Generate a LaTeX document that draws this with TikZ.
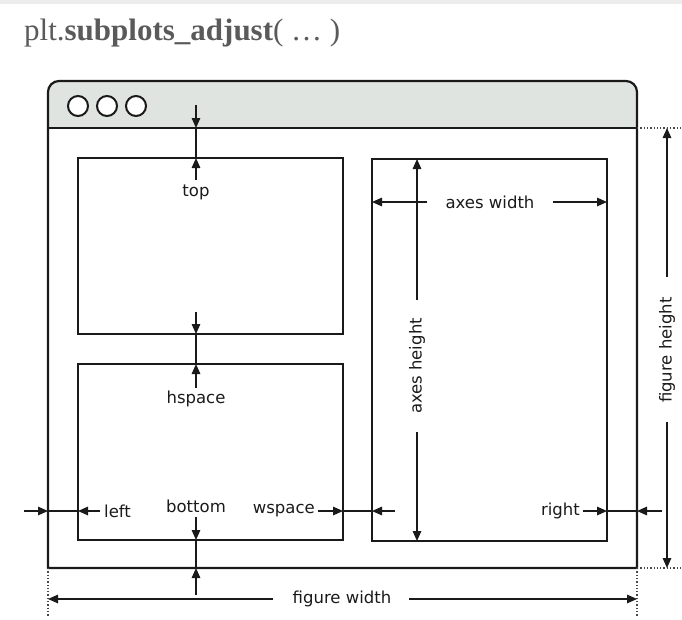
\documentclass[tikz,border=0pt]{standalone}
\usepackage{fontspec}
\setmainfont{Liberation Serif}
\newfontfamily\labfont{DejaVu Sans}
\usetikzlibrary{arrows.meta}
\definecolor{ink}{HTML}{1A1A1A}
\definecolor{barfill}{HTML}{DFE4E0}
\definecolor{titlegray}{HTML}{5A5A5A}
\tikzset{
  frameline/.style={draw=ink, line width=2.2pt},
  axbox/.style={draw=ink, line width=1.8pt},
  dimline/.style={draw=ink, line width=1.5pt},
  dimarrow/.style={draw=ink, line width=1.5pt, -{Triangle[length=10pt,width=8.5pt]}},
  guide/.style={draw=ink!80, line width=1.3pt, dotted},
  lab/.style={font=\labfont\fontsize{16.5}{18}\selectfont, text=ink, inner sep=1pt},
}
\begin{document}
\begin{tikzpicture}[x=1pt,y=-1pt]
\useasboundingbox (0,0) rectangle (682,619);
\fill[black!7] (0,0) rectangle (682,4);
% title
\node[anchor=base west, inner sep=0pt, text=titlegray, font=\fontsize{31}{34}\selectfont] (title) at (24,40) {plt.\textbf{subplots\_adjust}( \ldots\ )};
% window
\fill[barfill] (48,128) [rounded corners=11pt] -- (48,81) -- (637,81) [sharp corners] -- (637,128) -- cycle;
\draw[frameline] (48,568) [rounded corners=11pt] -- (48,81) -- (637,81) [sharp corners] -- (637,568) -- cycle;
\draw[frameline] (48,128) -- (637,128);
\foreach \cx/\n in {78/c1,107/c2,136/c3}
  \node[circle, draw=ink, line width=2pt, fill=white, minimum size=20pt, inner sep=0pt] (\n) at (\cx,106) {};
% axes
\draw[axbox] (78,158) rectangle (343,334);
\draw[axbox] (78,364) rectangle (343,540);
\draw[axbox] (372,159) rectangle (607,541);
% guides
\draw[guide] (637,128) -- (682,128);
\draw[guide] (637,568) -- (682,568);
\draw[guide] (48,568) -- (48,616);
\draw[guide] (637,568) -- (637,616);
% coordinates
\coordinate (ta) at (196,105); \coordinate (tb) at (196,128); \coordinate (tc) at (196,158); \coordinate (td) at (196,180);
\coordinate (ha) at (196,312); \coordinate (hb) at (196,334); \coordinate (hc) at (196,364); \coordinate (hd) at (196,388);
\coordinate (ba) at (196,517); \coordinate (bb) at (196,540); \coordinate (bc) at (196,568); \coordinate (bd) at (196,595);
\coordinate (la) at (24,511); \coordinate (lb) at (48,511); \coordinate (lc) at (78,511); \coordinate (ld) at (100,511);
\coordinate (wa) at (318,511); \coordinate (wb) at (343,511); \coordinate (wc) at (372,511); \coordinate (wd) at (395,511);
\coordinate (ra) at (583,511); \coordinate (rb) at (607,511); \coordinate (rc) at (637,511); \coordinate (rd) at (662,511);
\coordinate (awa) at (427,202); \coordinate (awl) at (372,202); \coordinate (awb) at (553,202); \coordinate (awr) at (607,202);
\coordinate (aha) at (417,300); \coordinate (aht) at (417,159); \coordinate (ahb) at (417,432); \coordinate (ahd) at (417,541);
\coordinate (fha) at (667,277); \coordinate (fht) at (667,128); \coordinate (fhb) at (667,422); \coordinate (fhd) at (667,568);
\coordinate (fwa) at (273,599); \coordinate (fwl) at (48,599); \coordinate (fwb) at (409,599); \coordinate (fwr) at (637,599);
% top
\draw[dimarrow] (ta) -- (tb); \draw[dimline] (tb) -- (tc); \draw[dimarrow] (td) -- (tc);
\node[lab] (ltop) at (196,192) {top};
% hspace
\draw[dimarrow] (ha) -- (hb); \draw[dimline] (hb) -- (hc); \draw[dimarrow] (hd) -- (hc);
\node[lab] (lhs) at (196,399) {hspace};
% bottom
\draw[dimarrow] (ba) -- (bb); \draw[dimline] (bb) -- (bc); \draw[dimarrow] (bd) -- (bc);
\node[lab] (lbot) at (196,506) {bottom};
% left
\draw[dimarrow] (la) -- (lb); \draw[dimline] (lb) -- (lc); \draw[dimarrow] (ld) -- (lc);
\node[lab, anchor=west] (lleft) at (103,511) {left};
% wspace
\draw[dimarrow] (wa) -- (wb); \draw[dimline] (wb) -- (wc); \draw[dimarrow] (wd) -- (wc);
\node[lab, anchor=east] (lws) at (316,511) {wspace};
% right
\draw[dimarrow] (ra) -- (rb); \draw[dimline] (rb) -- (rc); \draw[dimarrow] (rd) -- (rc);
\node[lab, anchor=east] (lright) at (581,511) {right};
% axes width
\draw[dimarrow] (awa) -- (awl); \draw[dimarrow] (awb) -- (awr);
\node[lab] (law) at (490,202) {axes width};
% axes height
\draw[dimarrow] (aha) -- (aht); \draw[dimarrow] (ahb) -- (ahd);
\node[lab, rotate=90] (lah) at (417,366) {axes height};
% figure height
\draw[dimarrow] (fha) -- (fht); \draw[dimarrow] (fhb) -- (fhd);
\node[lab, rotate=90] (lfh) at (667,350) {figure height};
% figure width
\draw[dimarrow] (fwa) -- (fwl); \draw[dimarrow] (fwb) -- (fwr);
\node[lab] (lfw) at (342,599) {figure width};
\end{tikzpicture}
\end{document}
